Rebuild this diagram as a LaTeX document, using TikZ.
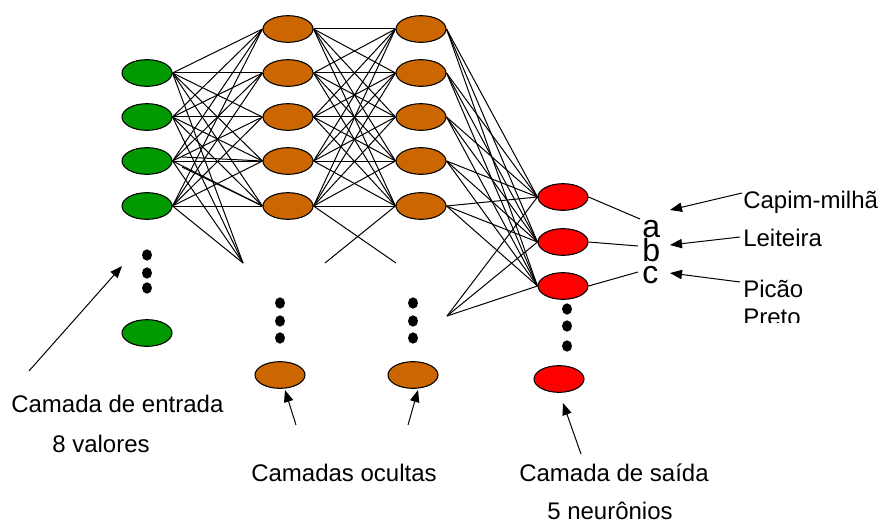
\documentclass[tikz,border=0pt]{standalone}
\usepackage{fontspec}
\setmainfont{Liberation Sans}
\usetikzlibrary{arrows.meta,shapes.geometric}
\definecolor{ngreen}{RGB}{0,153,0}
\definecolor{norange}{RGB}{204,102,0}
\definecolor{nred}{RGB}{255,0,0}
\begin{document}
\begin{tikzpicture}[x=0.75pt,y=-0.75pt,
  neuron/.style={ellipse,draw=black,line width=0.8pt,minimum width=37.5pt,minimum height=20pt,inner sep=0pt},
  inneur/.style={neuron,fill=ngreen},
  hidneur/.style={neuron,fill=norange},
  outneur/.style={neuron,fill=nred},
  link/.style={draw=black,line width=0.75pt},
  dotmark/.style={ellipse,fill=black,minimum width=7.5pt,minimum height=8.5pt,inner sep=0pt},
  lbl/.style={font=\fontsize{18pt}{20pt}\selectfont,anchor=base west,inner sep=0pt},
  letter/.style={font=\fontsize{24pt}{26pt}\selectfont,anchor=base west,inner sep=0pt},
  pointer/.style={draw=black,line width=0.75pt,-{Triangle[length=9pt,width=7pt]}}
]
\useasboundingbox (0,0) rectangle (880,524);
% free ends
\coordinate (b1) at (243,263);
\coordinate (b2) at (325,263);
\coordinate (b3) at (396,263);
\coordinate (b4) at (447,316);
\coordinate (s1) at (182,157);
\coordinate (s2) at (182,167);
% input layer
\foreach \i/\y in {1/73,2/117,3/161,4/206} {\node[inneur] (i\i) at (147,\y) {};}
\node[inneur] (i5) at (147,333) {};
% hidden 1
\foreach \i/\y in {1/29,2/73,3/117,4/161,5/206} {\node[hidneur] (h\i) at (288,\y) {};}
\node[hidneur] (h6) at (280,375) {};
% hidden 2
\foreach \i/\y in {1/29,2/73,3/117,4/161,5/206} {\node[hidneur] (g\i) at (421,\y) {};}
\node[hidneur] (g6) at (413,375) {};
% output
\node[outneur] (o1) at (563,197) {};
\node[outneur] (o2) at (563,242) {};
\node[outneur] (o3) at (563,286) {};
\node[outneur] (o4) at (559,379) {};
% dots
\foreach \y [count=\k] in {255,273,288} {\node[dotmark] (di\k) at (147,\y) {};}
\foreach \y [count=\k] in {303,321,338} {\node[dotmark] (dh\k) at (280,\y) {};}
\foreach \y [count=\k] in {303,321,338} {\node[dotmark] (dg\k) at (413,\y) {};}
\foreach \y [count=\k] in {309,326,346} {\node[dotmark] (do\k) at (567,\y) {};}
% connections
\foreach \a in {1,...,4} {\foreach \b in {1,...,5} {\draw[link] (i\a.east) -- (h\b.west);}}
\foreach \a in {1,...,4} {\draw[link] (i\a.east) -- (b1);}
\draw[link] (s1) -- (h4.west);
\draw[link] (s2) -- (h5.west);
\foreach \a in {1,...,5} {\foreach \b in {1,...,5} {\draw[link] (h\a.east) -- (g\b.west);}}
\draw[link] (h5.east) -- (b3);
\draw[link] (g5.west) -- (b2);
\foreach \a in {1,...,5} {\foreach \b in {1,...,3} {\draw[link] (g\a.east) -- (o\b.west);}}
\foreach \b in {1,...,3} {\draw[link] (b4) -- (o\b.west);}
% letters
\node[letter] (la) at (642,237) {a};
\node[letter] (lb) at (642,261) {b};
\node[letter] (lc) at (642,283) {c};
\coordinate (ea) at (640,219);
\coordinate (eb) at (638,246);
\coordinate (ec) at (638,272);
\draw[link] (o1.east) -- (ea);
\draw[link] (o2.east) -- (eb);
\draw[link] (o3.east) -- (ec);
% right labels
\begin{scope}
\clip (720,170) rectangle (880,322);
\node[lbl] (t1) at (743,208) {Capim-milhã};
\node[lbl] (t2) at (743,246) {Leiteira};
\node[lbl] (t3) at (743,297) {Picão};
\node[lbl] (t4) at (743,325) {Preto};
\end{scope}
\coordinate (pa) at (742,193);
\coordinate (pb) at (740,237);
\coordinate (pc) at (740,282);
\coordinate (qa) at (670,210);
\coordinate (qb) at (670,245);
\coordinate (qc) at (670,273);
\draw[pointer] (pa) -- (qa);
\draw[pointer] (pb) -- (qb);
\draw[pointer] (pc) -- (qc);
% bottom labels
\node[lbl] (c1) at (11,412) {Camada de entrada};
\node[lbl] (c2) at (52,452) {8 valores};
\node[lbl] (c3) at (251,481) {Camadas ocultas};
\node[lbl] (c4) at (519,481) {Camada de saída};
\node[lbl] (c5) at (547,519) {5 neurônios};
\coordinate (u1) at (29,371);
\coordinate (v1) at (122,266);
\coordinate (u2) at (296,425);
\coordinate (v2) at (285,390);
\coordinate (u3) at (408,425);
\coordinate (v3) at (418,390);
\coordinate (u4) at (581,454);
\coordinate (v4) at (563,403);
\draw[pointer] (u1) -- (v1);
\draw[pointer] (u2) -- (v2);
\draw[pointer] (u3) -- (v3);
\draw[pointer] (u4) -- (v4);
\end{tikzpicture}
\end{document}
